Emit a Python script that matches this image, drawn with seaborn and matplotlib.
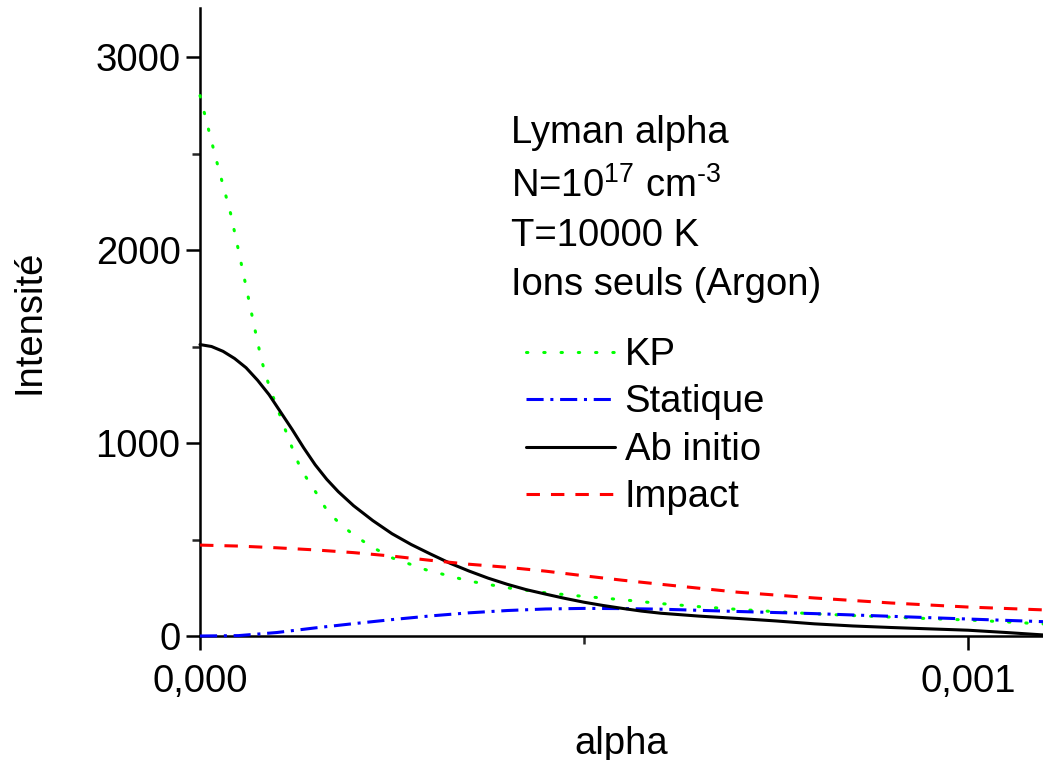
import numpy as np
import pandas as pd
import matplotlib
matplotlib.use("Agg")
import matplotlib.pyplot as plt
from matplotlib.ticker import FuncFormatter, MultipleLocator, FixedLocator
import seaborn as sns

# ---------------- data (alpha in units of 1e-4) ----------------
kp_alpha = [0, 0.2, 0.4, 0.5, 0.6, 0.7, 0.8, 0.9, 1.0, 1.1, 1.2, 1.3, 1.4, 1.5, 1.65, 1.8,
            1.95, 2.2, 2.5, 2.95, 3.5, 4.0, 4.5, 5.0, 5.5, 6.0, 6.5, 7.0, 7.5, 8.0, 8.5,
            9.0, 9.5, 10.0, 10.5, 11.0]
kp_int = [2800, 2485, 2187, 2000, 1810, 1617, 1430, 1295, 1188, 1080, 975, 877, 810, 750, 653,
          590, 540, 470, 405, 342, 285, 250, 224, 205, 188, 168, 152, 138, 126, 115, 106,
          98, 90, 83, 73, 62]

stat_alpha = [0, 0.5, 1.0, 1.5, 2.0, 2.5, 3.0, 3.5, 4.0, 4.5, 5.0, 5.5, 6.0, 7.0, 8.0, 9.0, 10.0, 11.0]
stat_int = [0, 2, 18, 42, 64, 85, 104, 120, 132, 140, 143, 142, 139, 127, 116, 102, 88, 74]

abin_alpha = [0, 0.15, 0.3, 0.45, 0.6, 0.75, 0.9, 1.05, 1.2, 1.35, 1.5, 1.65, 1.8, 2.0, 2.25,
              2.5, 2.75, 3.0, 3.25, 3.5, 3.75, 4.0, 4.25, 4.5, 4.75, 5.0, 5.25, 5.5, 5.75,
              6.0, 6.5, 7.0, 7.5, 8.0, 8.5, 9.0, 9.5, 10.0, 10.5, 11.0]
abin_int = [1510, 1500, 1475, 1438, 1390, 1325, 1250, 1160, 1070, 975, 887, 812, 748, 675, 598,
            530, 474, 425, 378, 337, 300, 268, 240, 217, 195, 175, 158, 143, 129,
            118, 103, 91, 78, 63, 52, 44, 37, 30, 18, 5]

imp_alpha = [0, 0.5, 1.0, 1.5, 2.0, 2.5, 3.0, 3.5, 4.0, 4.5, 5.0, 5.5, 6.0, 7.0, 8.0, 9.0, 10.0, 11.0]
imp_int = [471, 466, 457, 446, 432, 414, 392, 372, 356, 336, 312, 289, 268, 227, 197, 171, 150, 135]

labels = ["KP", "Statique", "Ab initio", "Impact"]
colors = ["#00ff00", "#0000ff", "#000000", "#ff0000"]
x_ticks = [0.0, 0.001]
y_ticks = [0, 1000, 2000, 3000]
annot_lines = ["Lyman alpha", "N=10$^{17}$ cm$^{\u20103}$", "T=10000 K", "Ions seuls (Argon)"]

series = [(kp_alpha, kp_int), (stat_alpha, stat_int), (abin_alpha, abin_int), (imp_alpha, imp_int)]

# ---------------- style ----------------
sns.set_theme(style="ticks")
plt.rcParams["font.family"] = ["Liberation Sans", "DejaVu Sans"]
plt.rcParams["mathtext.fontset"] = "custom"
plt.rcParams["mathtext.rm"] = "Liberation Sans"
plt.rcParams["mathtext.it"] = "Liberation Sans:italic"
plt.rcParams["mathtext.default"] = "regular"
FS = 27.5

W, H = 1043, 760
fig = plt.figure(figsize=(W / 100, H / 100), dpi=100)
ax = fig.add_axes([200 / W, 1 - 636 / H, 843 / W, 628 / H])

lw = 2.2
styles = [
    dict(linestyle=(0, (0.45, 5.2)), dash_capstyle="round"),
    dict(linestyle=(0, (5.6, 2.2, 1.0, 2.2))),
    dict(linestyle="-"),
    dict(linestyle=(0, (4.4, 3.6))),
]

handles = []
for (a, v), lab, col, st in zip(series, labels, colors, styles):
    df = pd.DataFrame({"alpha": np.array(a) * 1e-4, "I": v})
    n0 = len(ax.get_lines())
    sns.lineplot(data=df, x="alpha", y="I", ax=ax, color=col, linewidth=lw,
                 estimator=None, sort=False, legend=False, clip_on=False, **st)
    line = ax.get_lines()[n0]
    handles.append(line)

ax.set_xlim(0, 843 / 768 * 1e-3)
ax.set_ylim(0, 628 / 193 * 1000)

ax.xaxis.set_major_locator(FixedLocator(x_ticks))
ax.xaxis.set_minor_locator(FixedLocator([0.0005]))
ax.yaxis.set_major_locator(FixedLocator(y_ticks))
ax.yaxis.set_minor_locator(MultipleLocator(500))
ax.xaxis.set_major_formatter(FuncFormatter(lambda v, p: f"{v:.3f}".replace(".", ",")))
ax.yaxis.set_major_formatter(FuncFormatter(lambda v, p: f"{int(round(v))}"))

for s in ["top", "right"]:
    ax.spines[s].set_visible(False)
for s in ["left", "bottom"]:
    ax.spines[s].set_linewidth(1.8)
    ax.spines[s].set_color("black")
    ax.spines[s].set_zorder(1)

ax.tick_params(axis="both", which="major", direction="out", length=10, width=1.8,
               labelsize=FS, colors="black")
ax.tick_params(axis="both", which="minor", direction="out", length=5.5, width=1.8)
ax.tick_params(axis="x", which="major", pad=10)
ax.tick_params(axis="y", which="major", pad=4)

ax.set_xlabel("alpha", fontsize=FS, color="black")
ax.set_ylabel("Intensité", fontsize=FS, color="black")
ax.xaxis.set_label_coords(0.5, (636 - 726) / 628)
ax.yaxis.set_label_coords((48 - 200) / 843, 0.5)

ax.set_facecolor("white")
fig.patch.set_facecolor("white")

baselines = [143, 197, 246, 295]
for txt, yb in zip(annot_lines, baselines):
    fig.text(511 / W, 1 - yb / H, txt, fontsize=FS, ha="left", va="baseline", color="black")

leg = ax.legend(handles=handles, labels=labels, loc="upper left",
                bbox_to_anchor=(526 / W, 1 - 337 / H), bbox_transform=fig.transFigure,
                frameon=False, fontsize=FS, handlelength=2.33, handletextpad=0.25,
                labelspacing=0.30, borderpad=0, borderaxespad=0)
for t in leg.get_texts():
    t.set_color("black")

fig.savefig("out.png", dpi=100, facecolor="white")
